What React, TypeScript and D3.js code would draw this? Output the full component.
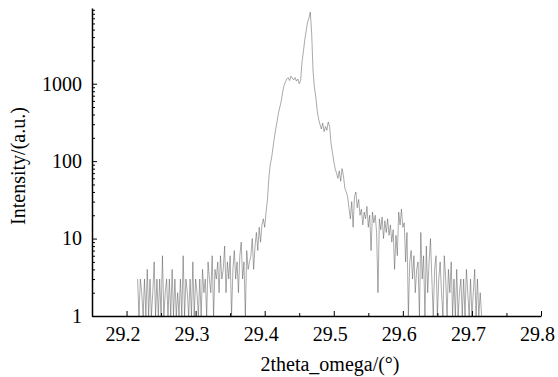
import React, { useEffect, useRef } from 'react';
import * as d3 from 'd3';

// scan grid (2theta start and step, degrees)
const scanStart = 29.216;
const scanStep = 0.002;

// counts, left to right
const lowLeft = [
  3, 1, 3, 2, 1, 3, 1, 4, 1, 3,
  1, 2, 5, 1, 3, 1, 3, 1, 6, 1,
  2, 3, 1, 3, 1, 4, 1, 3, 1, 2,
  1, 3, 1, 6, 1, 3, 2, 1, 3, 1,
  5, 1, 3, 2, 1,
];
const foot = [
  3, 1, 4, 2, 3, 1, 5, 3, 2, 6,
  1, 4, 3, 5, 2, 6, 3, 4, 8, 2,
  5, 3, 6, 1, 4, 7, 3, 5, 2, 6,
  9, 3, 5, 1, 7, 4, 5,
];
const peak = [
  6, 10, 4, 8, 12, 7, 14, 9, 15,
  18, 14, 22, 32, 60,
  90, 110, 150, 200, 260,
  330, 420, 500,
  600, 780, 950, 1050,
  1150, 1200, 1100, 1250, 1180, 1120, 1200, 1080, 1150, 1000, 1100,
  1900, 2600,
  3700, 4800,
  6200, 7000, 8400,
  4500, 1450, 900, 670, 450, 350,
  300, 260, 310, 240, 280, 250, 320, 280, 170,
];
const shoulder = [
  130, 100, 80, 70, 60, 75, 55, 80, 65, 45,
  40, 35, 25, 18, 30, 14, 35, 40, 25, 32,
  20, 24, 15, 22, 18, 26, 14, 20, 7, 22,
  16, 20, 12, 2, 18, 13, 19, 10, 17, 12,
  18, 11, 15, 9, 13, 4, 11, 6, 22, 15,
  24, 14, 16, 5, 12, 1,
];
const lowRight = [
  5, 7, 3, 6, 2, 4,
  5, 1, 12, 3, 6, 1, 8, 2, 5, 10, 3, 1,
  4, 6, 1, 3, 5, 2, 1, 6, 3, 1, 4, 2, 5, 1,
  3, 1, 4, 1, 2, 3, 1, 3, 1, 4, 2, 1, 3, 1, 2, 4, 1, 3, 1, 2, 1,
];

const xTicks = [29.2, 29.3, 29.4, 29.5, 29.6, 29.7, 29.8];
const yTicks = [1, 10, 100, 1000];

const counts = [...lowLeft, ...foot, ...peak, ...shoulder, ...lowRight];
const data = counts.map((c, i) => ({ angle: scanStart + i * scanStep, count: c }));

const XrdChart = ({ width = 558, height = 377 }) => {
  const ref = useRef<SVGSVGElement>(null);

  useEffect(() => {
    const margin = { top: 8, right: 17, bottom: 61, left: 92 };
    const font = 'Liberation Serif';
    const fontSize = 20;

    const svg = d3.select(ref.current)
      .attr('width', width)
      .attr('height', height);

    svg.selectAll('*').remove();

    const x = d3.scaleLinear()
      .domain([29.15, 29.8])
      .range([margin.left, width - margin.right]);

    const y = d3.scaleLog()
      .domain([1, 9500])
      .range([height - margin.bottom, margin.top]);

    // spectrum
    const line = d3.line<{ angle: number; count: number }>()
      .x(d => x(d.angle))
      .y(d => y(d.count));

    svg.append('path')
      .datum(data)
      .attr('d', line)
      .attr('fill', 'none')
      .attr('stroke', '#555')
      .attr('stroke-width', 0.5);

    const base = height - margin.bottom;

    // x axis, ticks pointing inward
    const xMinor = d3.range(29.15, 29.81, 0.05).filter(v => !xTicks.some(t => Math.abs(t - v) < 1e-6));
    svg.append('g')
      .attr('transform', `translate(0,${base})`)
      .call(d3.axisBottom(x).tickValues(xMinor).tickSizeInner(-3).tickSizeOuter(0).tickFormat(() => ''))
      .call(g => g.select('.domain').remove());

    const gx = svg.append('g')
      .attr('transform', `translate(0,${base})`)
      .call(d3.axisBottom(x).tickValues(xTicks).tickSizeInner(-5).tickSizeOuter(0).tickPadding(11).tickFormat(d3.format('.1f')));
    gx.selectAll('text').attr('x', -4);

    // y axis
    const yMinor: number[] = [];
    [1, 10, 100, 1000].forEach(dec => {
      for (let k = 2; k <= 9; k++) if (dec * k <= 9500) yMinor.push(dec * k);
    });
    svg.append('g')
      .attr('transform', `translate(${margin.left},0)`)
      .call(d3.axisLeft(y).tickValues(yMinor).tickSizeInner(-3).tickSizeOuter(0).tickFormat(() => ''))
      .call(g => g.select('.domain').remove());

    const gy = svg.append('g')
      .attr('transform', `translate(${margin.left},0)`)
      .call(d3.axisLeft(y).tickValues(yTicks).tickSizeInner(-5).tickSizeOuter(0).tickPadding(10).tickFormat(d3.format('d')));

    [gx, gy].forEach(g => {
      g.attr('font-family', font).attr('font-size', fontSize);
      g.select('.domain').attr('stroke-width', 1.5);
      g.selectAll('text').attr('fill', '#000');
    });
    svg.selectAll('.tick line').attr('stroke', '#000');

    // titles
    svg.append('text')
      .attr('x', 330)
      .attr('y', 371)
      .attr('text-anchor', 'middle')
      .attr('font-family', font)
      .attr('font-size', fontSize)
      .text('2theta_omega/(°)');

    svg.append('text')
      .attr('transform', `translate(25,166) rotate(-90)`)
      .attr('text-anchor', 'middle')
      .attr('font-family', font)
      .attr('font-size', fontSize)
      .text('Intensity/(a.u.)');
  }, [width, height]);

  return <svg ref={ref} style={{ position: 'absolute', left: 0, top: 0, background: '#fff' }}></svg>;
};

export default function App() {
  return <XrdChart />;
}
